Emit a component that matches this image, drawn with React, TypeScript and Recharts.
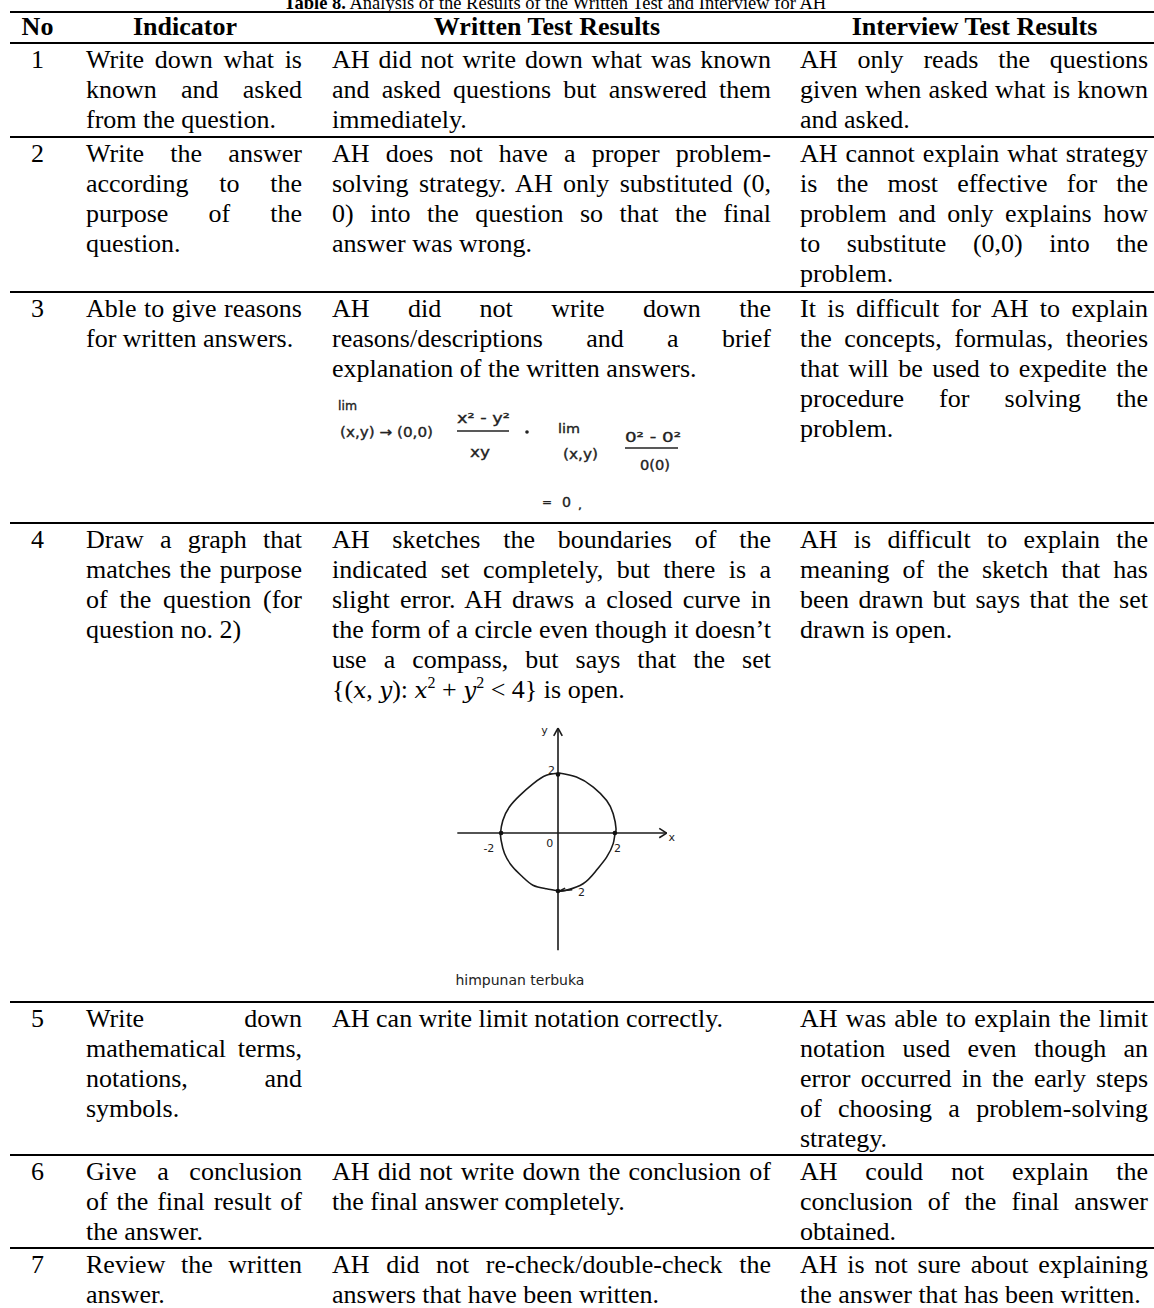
import React from 'react';
import { ComposedChart, Line, XAxis, YAxis, ReferenceLine, ReferenceDot } from 'recharts';

const SERIF = '"Liberation Serif","Times New Roman",Times,serif';
const HAND = '"DejaVu Sans","Noto Sans",sans-serif';
const MATH = '__MATH__';

// ---------- table text ----------
const titleBold = 'Table 8.';
const titleRest = ' Analysis of the Results of the Written Test and Interview for AH';
const headers = ['No', 'Indicator', 'Written Test Results', 'Interview Test Results'];
const rowNumbers = ['1', '2', '3', '4', '5', '6', '7'];

const indicatorLines: string[][] = [
  ['Write down what is', 'known and asked', 'from the question.'],
  ['Write the answer', 'according to the', 'purpose of the', 'question.'],
  ['Able to give reasons', 'for written answers.'],
  ['Draw a graph that', 'matches the purpose', 'of the question (for', 'question no. 2)'],
  ['Write down', 'mathematical terms,', 'notations, and', 'symbols.'],
  ['Give a conclusion', 'of the final result of', 'the answer.'],
  ['Review the written', 'answer.'],
];

const writtenLines: string[][] = [
  ['AH did not write down what was known', 'and asked questions but answered them', 'immediately.'],
  ['AH does not have a proper problem-', 'solving strategy. AH only substituted (0,', '0) into the question so that the final', 'answer was wrong.'],
  ['AH did not write down the', 'reasons/descriptions and a brief', 'explanation of the written answers.'],
  ['AH sketches the boundaries of the', 'indicated set completely, but there is a', 'slight error. AH draws a closed curve in', 'the form of a circle even though it doesn\u2019t', 'use a compass, but says that the set', MATH],
  ['AH can write limit notation correctly.'],
  ['AH did not write down the conclusion of', 'the final answer completely.'],
  ['AH did not re-check/double-check the', 'answers that have been written.'],
];

const interviewLines: string[][] = [
  ['AH only reads the questions', 'given when asked what is known', 'and asked.'],
  ['AH cannot explain what strategy', 'is the most effective for the', 'problem and only explains how', 'to substitute (0,0) into the', 'problem.'],
  ['It is difficult for AH to explain', 'the concepts, formulas, theories', 'that will be used to expedite the', 'procedure for solving the', 'problem.'],
  ['AH is difficult to explain the', 'meaning of the sketch that has', 'been drawn but says that the set', 'drawn is open.'],
  ['AH was able to explain the limit', 'notation used even though an', 'error occurred in the early steps', 'of choosing a problem-solving', 'strategy.'],
  ['AH could not explain the', 'conclusion of the final answer', 'obtained.'],
  ['AH is not sure about explaining', 'the answer that has been written.'],
];

// ---------- handwritten sketch data (units of the drawn plane) ----------
const circlePoints = [
  { x: 0.04, y: 2.05 }, { x: 0.65, y: 1.91 }, { x: 1.24, y: 1.57 }, { x: 1.71, y: 1.11 },
  { x: 1.94, y: 0.66 }, { x: 2.04, y: 0.15 }, { x: 2.0, y: -0.05 }, { x: 1.94, y: -0.36 },
  { x: 1.71, y: -0.82 }, { x: 1.35, y: -1.27 }, { x: 0.88, y: -1.73 }, { x: 0.29, y: -1.95 },
  { x: 0.04, y: -1.98 }, { x: -0.41, y: -1.9 }, { x: -0.88, y: -1.78 }, { x: -1.24, y: -1.5 },
  { x: -1.59, y: -1.16 }, { x: -1.88, y: -0.7 }, { x: -2.0, y: -0.25 }, { x: -2.02, y: 0.0 },
  { x: -1.94, y: 0.43 }, { x: -1.71, y: 0.89 }, { x: -1.35, y: 1.28 }, { x: -0.88, y: 1.68 },
  { x: -0.41, y: 1.97 }, { x: 0.04, y: 2.05 },
];
const sketchSegments = [
  [{ x: -3.54, y: 0 }, { x: 3.82, y: 0 }],
  [{ x: 3.82, y: 0 }, { x: 3.56, y: 0.16 }],
  [{ x: 3.82, y: 0 }, { x: 3.56, y: -0.16 }],
  [{ x: 0, y: -4.0 }, { x: 0, y: 3.58 }],
  [{ x: 0, y: 3.58 }, { x: -0.15, y: 3.32 }],
  [{ x: 0, y: 3.58 }, { x: 0.15, y: 3.32 }],
  [{ x: 0.06, y: -1.98 }, { x: 0.5, y: -1.93 }],
  [{ x: 0.06, y: -1.98 }, { x: 0.25, y: -1.88 }],
];
const sketchMarks = [
  { x: -2, y: 0 }, { x: 2, y: 0 }, { x: 0, y: 2 }, { x: 0, y: -1.98 },
];
const sketchLabels = [
  { x: -0.47, y: 3.51, text: 'y' },
  { x: -0.23, y: 2.16, text: '2' },
  { x: -2.43, y: -0.52, text: '-2' },
  { x: -0.29, y: -0.35, text: '0' },
  { x: 2.09, y: -0.52, text: '2' },
  { x: 4.0, y: -0.15, text: 'x' },
  { x: 0.83, y: -2.03, text: '2' },
];
const sketchCaption = { x: -1.34, y: -5.03, text: 'himpunan terbuka' };

// ---------- layout ----------
const LH = 30;
const ROW_TOPS = [43, 137, 292, 523, 1002, 1155, 1248];
const COL_NO = { left: 10, width: 55 };
const COL_IND = { left: 86, width: 216 };
const COL_WR = { left: 332, width: 439 };
const COL_IV = { left: 800, width: 348 };
const HEADER_CENTERS = [37.5, 185, 547, 974.5];
const INK = '#222';

function MathLine() {
  const it: React.CSSProperties = { fontStyle: 'italic', fontFamily: '"DejaVu Serif", "Liberation Serif", serif', fontSize: 23 };
  const sup: React.CSSProperties = { fontSize: 16, position: 'relative', top: -10, lineHeight: 0 };
  return (
    <span>
      {'{('}<span style={it}>x</span>, <span style={it}>y</span>): <span style={it}>x</span>
      <span style={sup}>2</span> + <span style={it}>y</span><span style={sup}>2</span> {'< 4} is open.'}
    </span>
  );
}

function Para({ lines, left, width, top }: { lines: string[]; left: number; width: number; top: number }) {
  return (
    <>
      {lines.map((t, i) => {
        const last = i === lines.length - 1;
        return (
          <div
            key={i}
            style={{
              position: 'absolute',
              left,
              top: top + i * LH,
              width,
              height: LH,
              lineHeight: LH + 'px',
              textAlign: last ? 'left' : 'justify',
              textAlignLast: last ? 'left' : 'justify',
              whiteSpace: last ? 'nowrap' : 'normal',
            } as React.CSSProperties}
          >
            {t === MATH ? <MathLine /> : t}
          </div>
        );
      })}
    </>
  );
}

function Rule({ y, h }: { y: number; h: number }) {
  return <div style={{ position: 'absolute', left: 10, top: y - h / 2, width: 1144, height: h, background: '#000' }} />;
}

function Formula() {
  const ox = 300;
  const oy = 385;
  const T = (x: number, y: number, s: string, w: number, fs = 14) => (
    <text
      x={x - ox}
      y={y - oy}
      fontFamily={HAND}
      fontSize={fs}
      fill={INK}
      stroke={INK}
      strokeWidth={0.35}
      textLength={w}
      lengthAdjust="spacingAndGlyphs"
    >
      {s}
    </text>
  );
  return (
    <svg width={480} height={135} style={{ position: 'absolute', left: ox, top: oy }}>
      {T(338, 410, 'lim', 19, 13)}
      {T(340, 437, '(x,y) \u2192 (0,0)', 93)}
      {T(457, 423, 'x\u00b2 - y\u00b2', 53)}
      <line x1={457 - ox} y1={431 - oy} x2={509 - ox} y2={431 - oy} stroke={INK} strokeWidth={1.4} />
      {T(470, 457, 'xy', 20)}
      <circle cx={527 - ox} cy={432 - oy} r={1.8} fill={INK} />
      {T(558, 433, 'lim', 22, 13)}
      {T(563, 459, '(x,y)', 35)}
      {T(625, 442, '0\u00b2 - 0\u00b2', 56)}
      <line x1={625 - ox} y1={448 - oy} x2={678 - ox} y2={448 - oy} stroke={INK} strokeWidth={1.4} />
      {T(640, 470, '0(0)', 30)}
      {T(542, 506, '=', 10, 12)}
      {T(562, 507, '0', 9, 14)}
      {T(578, 509, ',', 4, 10)}
    </svg>
  );
}

function Sketch() {
  const labelStyle = { fill: INK, fontSize: 11, fontFamily: HAND };
  return (
    <div style={{ position: 'absolute', left: 430, top: 710 }}>
      <ComposedChart width={256} height={293} data={circlePoints} margin={{ top: 0, right: 0, bottom: 0, left: 0 }}>
        <XAxis type="number" dataKey="x" domain={[-4.5, 4.5]} hide allowDataOverflow />
        <YAxis type="number" dataKey="y" domain={[-5.8, 4.2]} hide allowDataOverflow />
        {sketchSegments.map((s, i) => (
          <ReferenceLine key={'s' + i} segment={s} stroke="#1a1a1a" strokeWidth={1.6} ifOverflow="visible" />
        ))}
        <Line dataKey="y" type="natural" dot={false} stroke="#1a1a1a" strokeWidth={1.6} isAnimationActive={false} />
        {sketchMarks.map((m, i) => (
          <ReferenceDot key={'m' + i} x={m.x} y={m.y} r={2.3} fill="#111" stroke="none" ifOverflow="visible" />
        ))}
        {sketchLabels.map((l, i) => (
          <ReferenceDot
            key={'l' + i}
            x={l.x}
            y={l.y}
            r={1}
            fill="none"
            stroke="none"
            ifOverflow="visible"
            label={{ value: l.text, position: 'center', ...labelStyle }}
          />
        ))}
        <ReferenceDot
          x={sketchCaption.x}
          y={sketchCaption.y}
          r={1}
          fill="none"
          stroke="none"
          ifOverflow="visible"
          label={{ value: sketchCaption.text, position: 'center', fill: INK, fontSize: 14, fontFamily: HAND }}
        />
      </ComposedChart>
    </div>
  );
}

export default function App() {
  return (
    <div
      style={{
        position: 'absolute',
        left: 0,
        top: 0,
        width: 1154,
        height: 1308,
        overflow: 'hidden',
        background: '#fff',
        fontFamily: SERIF,
        fontSize: 26,
        color: '#000',
      }}
    >
      <div style={{ position: 'absolute', left: 0, top: -7, width: 1110, textAlign: 'center', fontSize: 18.5, whiteSpace: 'nowrap' }}>
        <b>{titleBold}</b>
        {titleRest}
      </div>

      <Rule y={12} h={2.2} />
      {headers.map((h, i) => (
        <div
          key={h}
          style={{
            position: 'absolute',
            left: HEADER_CENTERS[i] - 200,
            width: 400,
            top: 12,
            height: LH,
            lineHeight: LH + 'px',
            textAlign: 'center',
            fontWeight: 'bold',
          }}
        >
          {h}
        </div>
      ))}
      <Rule y={43} h={2} />

      {rowNumbers.map((n, r) => {
        const top = ROW_TOPS[r] + 2;
        return (
          <React.Fragment key={n}>
            <div style={{ position: 'absolute', left: COL_NO.left, width: COL_NO.width, top, height: LH, lineHeight: LH + 'px', textAlign: 'center' }}>
              {n}
            </div>
            <Para lines={indicatorLines[r]} left={COL_IND.left} width={COL_IND.width} top={top} />
            <Para lines={writtenLines[r]} left={COL_WR.left} width={COL_WR.width} top={top} />
            <Para lines={interviewLines[r]} left={COL_IV.left} width={COL_IV.width} top={top} />
            {r > 0 && <Rule y={ROW_TOPS[r]} h={1.8} />}
          </React.Fragment>
        );
      })}

      <Formula />
      <Sketch />
    </div>
  );
}
